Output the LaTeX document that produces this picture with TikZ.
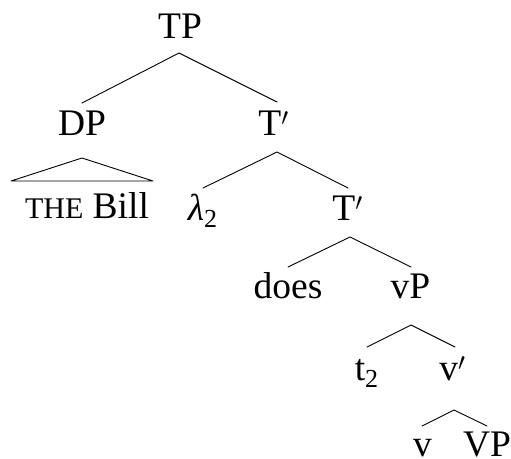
\documentclass[tikz,border=0pt]{standalone}
\usepackage{fontspec}
\setmainfont{Liberation Serif}
\begin{document}
\begin{tikzpicture}[x=1pt,y=-1pt,
  lab/.style={anchor=base,inner sep=0pt,font=\fontsize{37.5}{40}\selectfont},
  edge/.style={line width=0.9pt,line cap=round,line join=round}]
\useasboundingbox (0,0) rectangle (511,458);
\node[lab] (tp)   at (180,38)    {TP};
\node[lab] (dp)   at (82,135)    {DP};
\node[lab] (tb1)  at (273.5,135) {T$'$};
\node[lab] (bill) at (87,218)    {{\fontsize{30}{32}\selectfont THE} Bill};
\node[lab] (lam)  at (202.5,220) {\textit{λ}\raisebox{-7.5pt}{\fontsize{26}{28}\selectfont 2}};
\node[lab] (tb2)  at (347.5,220) {T$'$};
\node[lab] (does) at (288,298)   {does};
\node[lab] (vp)   at (410.5,298) {vP};
\node[lab] (t2)   at (366.5,380) {t\raisebox{-7.5pt}{\fontsize{26}{28}\selectfont 2}};
\node[lab] (vbar) at (452.5,380) {v$'$};
\node[lab] (v)    at (422.5,456) {v};
\node[lab] (VP)   at (487,456)   {VP};
% TP
\draw[edge] ([shift={(0,-32)}]dp.base) -- ([shift={(-1,15)}]tp.base) -- ([shift={(3.5,-33)}]tb1.base);
% DP triangle
\draw[edge] ([shift={(0,23)}]dp.base) -- ([shift={(-76,-37)}]bill.base) -- ([shift={(66,-37)}]bill.base) -- cycle;
% T'
\draw[edge] ([shift={(0.5,-32)}]lam.base) -- ([shift={(3.5,17)}]tb1.base) -- ([shift={(0.5,-32)}]tb2.base);
% T' 2
\draw[edge] ([shift={(0,-31)}]does.base) -- ([shift={(2.5,17)}]tb2.base) -- ([shift={(0.5,-31)}]vp.base);
% vP
\draw[edge] ([shift={(0.5,-33)}]t2.base) -- ([shift={(0.5,27)}]vp.base) -- ([shift={(2.5,-33)}]vbar.base);
% v'
\draw[edge] ([shift={(-0.5,-30)}]v.base) -- ([shift={(1.5,30)}]vbar.base) -- ([shift={(0,-30)}]VP.base);
\end{tikzpicture}
\end{document}
